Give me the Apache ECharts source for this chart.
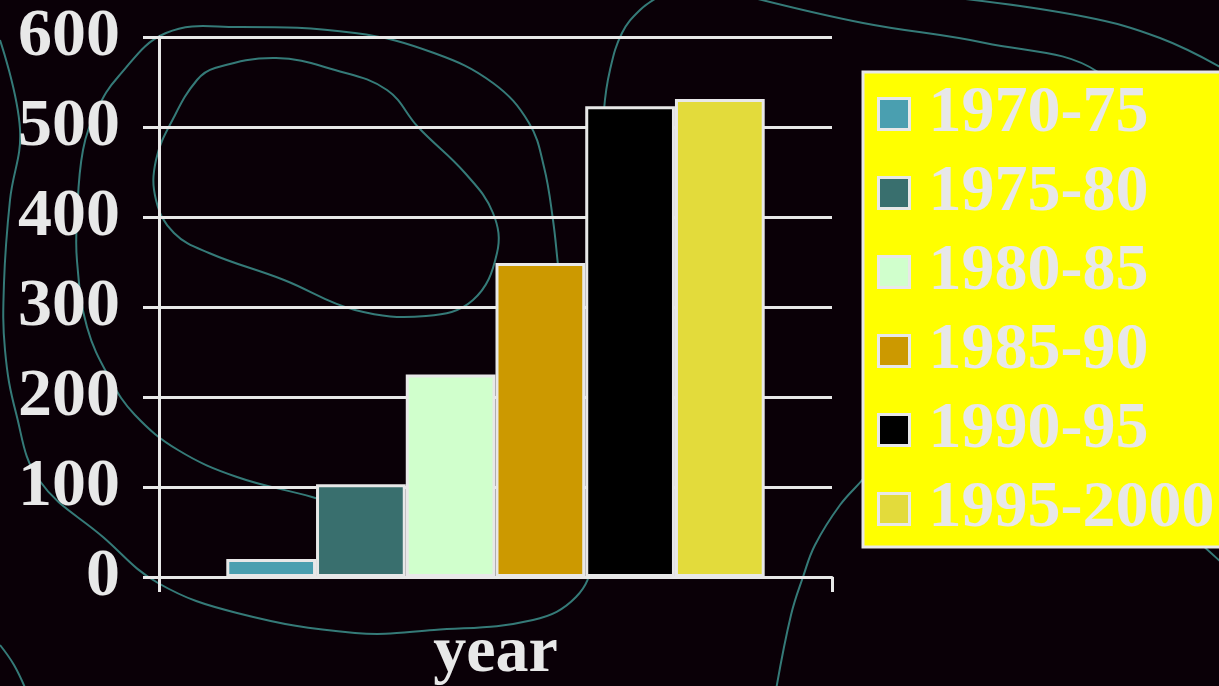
<!DOCTYPE html>
<html>
<head>
<meta charset="utf-8">
<script src="https://cdn.jsdelivr.net/npm/echarts@6/dist/echarts.min.js"></script>
<style>
  html, body { margin: 0; padding: 0; background: #0a0007; }
  #chart { width: 1219px; height: 686px; }
</style>
</head>
<body>
<div id="chart"></div>
<script>
// Chart data
const categories = ['year'];
const seriesNames = ['1970-75', '1975-80', '1980-85', '1985-90', '1990-95', '1995-2000'];
const seriesValues = [20, 103, 225, 349, 523, 531];
const seriesColors = ['#4a9fb0', '#396f6e', '#d0ffcc', '#cc9900', '#000000', '#e3db3b'];
const yMin = 0, yMax = 600, yStep = 100;

const FONT = '"Liberation Serif", "Times New Roman", serif';
const INK = '#e8e8e8';
const CONTOUR = '#357a78';

// Decorative contour lines behind the plot
const contourLines = [
  { closed: false, pts: [[0,40],[20,129],[10,200],[4,283],[5,350],[16,413],[39,480],[103,537],[158,583],[237,613],[355,633],[434,630],[533,620],[576,597],[592,560],[597,400],[600,200],[604,110],[610,70],[622,33],[640,10],[660,-4]] },
  { closed: false, pts: [[335,505],[312,497],[237,477],[178,450],[135,415],[110,379],[87,327],[77,261],[77,217],[83,150],[97,110],[118,77],[166,33],[237,27],[355,33],[434,53],[493,83],[529,123],[544,167],[553,220],[558,265],[562,300]] },
  { closed: true,  pts: [[215,68],[276,58],[335,70],[387,90],[418,127],[465,173],[493,213],[497,253],[473,300],[426,316],[355,310],[284,280],[209,253],[174,233],[156,200],[156,160],[174,117],[197,80]] },
  { closed: false, pts: [[0,645],[14,665],[26,690]] },
  { closed: false, pts: [[754,-2],[863,23],[985,43],[1098,72],[1100,120],[1000,280],[910,400],[870,470],[840,505],[815,545],[803,577],[791,615],[776,690]] },
  { closed: false, pts: [[957,-2],[1086,17],[1160,38],[1222,68]] },
  { closed: false, pts: [[1200,543],[1222,563]] }
];

const chart = echarts.init(document.getElementById('chart'), null, { renderer: 'canvas' });

const series = seriesNames.map((name, i) => ({
  name: name,
  type: 'bar',
  data: [seriesValues[i]],
  barGap: '0%',
  barCategoryGap: '20%',
  itemStyle: { color: seriesColors[i], borderColor: INK, borderWidth: 3 },
  emphasis: { disabled: true },
  z: 2
}));

const option = {
  backgroundColor: '#0a0007',
  animation: false,
  textStyle: { fontFamily: FONT },
  grid: { left: 159, right: 387, top: 37, bottom: 109, containLabel: false, outerBoundsMode: 'none' },
  legend: {
    orient: 'vertical',
    left: 863,
    top: 72,
    backgroundColor: '#ffff00',
    borderColor: INK,
    borderWidth: 3,
    borderRadius: 0,
    padding: [9, 40, 5, 14],
    itemWidth: 31,
    itemHeight: 31,
    itemGap: 13,
    itemTextGap: 18,
    icon: 'rect',
    itemStyle: { borderColor: INK, borderWidth: 3 },
    textStyle: { color: INK, fontFamily: FONT, fontWeight: 'bold', fontSize: 66, lineHeight: 66, padding: [0, 0, 0, 14] },
    data: seriesNames,
    z: 10
  },
  xAxis: {
    type: 'category',
    data: categories,
    axisLine: { show: true, lineStyle: { color: INK, width: 3 } },
    axisTick: { show: true, length: 15, inside: false, lineStyle: { color: INK, width: 3 } },
    axisLabel: { color: INK, fontFamily: FONT, fontWeight: 'bold', fontSize: 66, margin: 44 },
    splitLine: { show: false }
  },
  yAxis: {
    type: 'value',
    min: yMin,
    max: yMax,
    interval: yStep,
    axisLine: { show: true, lineStyle: { color: INK, width: 3 } },
    axisTick: { show: true, length: 16, lineStyle: { color: INK, width: 3 } },
    axisLabel: { color: INK, fontFamily: FONT, fontWeight: 'bold', fontSize: 68, margin: 39 },
    splitLine: { show: true, lineStyle: { color: INK, width: 3 } }
  },
  graphic: {
    elements: contourLines.map(c => ({
      type: c.closed ? 'polygon' : 'polyline',
      silent: true,
      z: -5,
      shape: { points: c.pts, smooth: 0.4 },
      style: { stroke: CONTOUR, lineWidth: 2, fill: null }
    }))
  },
  series: series
};

chart.setOption(option);
</script>
</body>
</html>
